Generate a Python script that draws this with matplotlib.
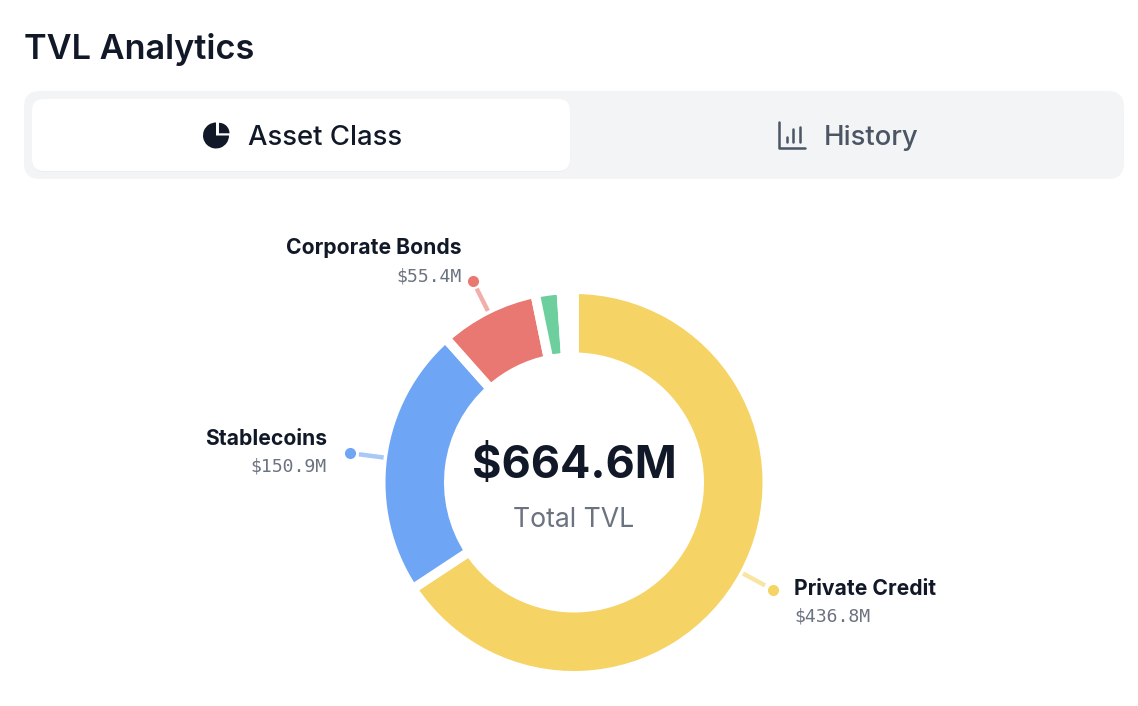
import numpy as np
import matplotlib
matplotlib.use('Agg')
import matplotlib.pyplot as plt
from matplotlib.patches import FancyBboxPatch, Wedge

W, H = 1138, 706

categories = ['Private Credit', 'Stablecoins', 'Corporate Bonds', 'Other', 'Unshown']
values = [436.8, 150.9, 55.4, 14.5, 7.0]
colors = ['#f6d365', '#6ea5f4', '#ea7872', '#6ccf9d', '#ffffff']
value_labels = ['$436.8M', '$150.9M', '$55.4M']
total_label = '$664.6M'
tab_labels = ['Asset Class', 'History']
hist_icon_bars = [5, 13, 15]

plt.rcParams['font.family'] = ['Inter', 'DejaVu Sans']

CX, CY = 574, 482.5
GAP = 9.5
R_OUT, R_IN = 188.5, 130


def Y(y):
    return H - y


def rbox(ax, x0, y0, x1, y1, rad, color, z=1):
    p = FancyBboxPatch((x0 + rad, Y(y1) + rad), x1 - x0 - 2 * rad, y1 - y0 - 2 * rad,
                       boxstyle=f'round,pad={rad},rounding_size={rad}',
                       fc=color, ec='none', zorder=z)
    ax.add_patch(p)


fig = plt.figure(figsize=(W / 100, H / 100), dpi=100, facecolor='white')
ax = fig.add_axes([0, 0, 1, 1])

# donut, the white borders make the gaps between slices
ax.pie(values, colors=colors, startangle=90, counterclock=False, center=(CX, Y(CY)),
       radius=R_OUT + GAP / 2,
       wedgeprops=dict(width=R_OUT - R_IN + GAP, edgecolor='white', linewidth=GAP * 0.72))
ax.set_xlim(0, W)
ax.set_ylim(0, H)
ax.axis('off')

# leader lines
cum = np.cumsum(values)
total = cum[-1]
ha = ['left', 'right', 'right']
for i in range(3):
    mid = np.radians((cum[i] - values[i] / 2) / total * 360)
    dx, dy = np.sin(mid), np.cos(mid)
    ax.plot([CX + 192 * dx, CX + 217 * dx], [Y(CY) + 192 * dy, Y(CY) + 217 * dy],
            color=colors[i], alpha=0.6, lw=3.2, solid_capstyle='butt', zorder=3)
    ax.plot(CX + 226 * dx, Y(CY) + 226 * dy, 'o', color=colors[i], ms=8, mew=0, zorder=3)

label_x = [794, 327, 462]
label_y = [589, 439, 248]
for i in range(3):
    ax.text(label_x[i], Y(label_y[i]), categories[i], ha=ha[i], va='center',
            fontsize=15.2, fontweight='bold', color='#111827', zorder=4)
    ax.text(label_x[i], Y(label_y[i] + 28), value_labels[i], ha=ha[i], va='center',
            fontsize=13.1, family='DejaVu Sans Mono', color='#6b7280', zorder=4)

ax.text(574, Y(466), total_label, ha='center', va='center', fontsize=32.4, fontweight='bold',
        color='#111827', zorder=4)
ax.text(574, Y(520), 'Total TVL', ha='center', va='center', fontsize=19.2, color='#6b7280', zorder=4)

ax.text(24, Y(50), 'TVL Analytics', ha='left', va='center', fontsize=24.7, fontweight='semibold',
        color='#111827', zorder=4)

# tabs
rbox(ax, 24, 91, 1124, 179, 16, '#f3f4f6', 1)
rbox(ax, 32, 100, 570, 172, 12, '#eceef1', 2)
rbox(ax, 32, 99, 570, 171, 12, '#ffffff', 2)
ax.text(248, Y(138), tab_labels[0], ha='left', va='center', fontsize=19.8, fontweight='medium',
        color='#111827', zorder=4)
ax.text(824, Y(138), tab_labels[1], ha='left', va='center', fontsize=19.8, fontweight='medium',
        color='#4b5563', zorder=4)

# pie icon
ax.add_patch(Wedge((216, Y(135.5)), 13, 90, 360, fc='#111827', ec='none', zorder=4))
ax.add_patch(Wedge((219, Y(133.3)), 10.5, 0, 90, fc='#111827', ec='none', zorder=4))

# bar icon
ax.plot([779.5, 779.5, 805], [Y(122), Y(147.5), Y(147.5)], color='#4b5563', lw=1.8, zorder=4,
        solid_joinstyle='round', solid_capstyle='round')
for bx, bh in zip([787, 793, 800], hist_icon_bars):
    ax.plot([bx, bx], [Y(142), Y(142 - bh)], color='#4b5563', lw=1.8, zorder=4,
            solid_capstyle='round')

fig.savefig('out.png', dpi=100)
